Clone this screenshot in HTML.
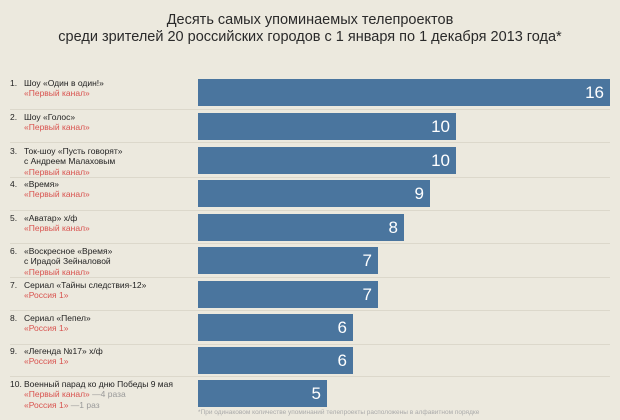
<!DOCTYPE html>
<html><head><meta charset="utf-8"><style>
body{margin:0;width:620px;height:420px;background:#ecE9de;position:relative;overflow:hidden;font-family:"Liberation Sans","DejaVu Sans",sans-serif;}
.t{position:absolute;left:0;width:620px;text-align:center;font-size:14.5px;color:#2a2a2a;}
.row{position:absolute;left:0;width:620px;}
.lab{position:absolute;left:10px;top:-1px;font-size:8.5px;line-height:10.3px;color:#222;}
.lab .n{display:inline-block;width:14px;}
.r{color:#d9534f;padding-left:14px;}
.g{color:#999;}
.bar{position:absolute;left:198px;top:0;height:27px;background:#4a759e;color:#fff;font-size:17px;text-align:right;box-sizing:border-box;padding-right:6px;line-height:28px;}
.ln{position:absolute;left:10px;width:600px;height:1px;background:#dcd8cb;}
.note{position:absolute;left:198px;top:409px;font-size:6.5px;color:#aaa;}
</style></head><body>
<div class="t" style="top:12px">Десять самых упоминаемых телепроектов</div>
<div class="t" style="top:29px">среди зрителей 20 российских городов с 1 января по 1 декабря 2013 года*</div>

<div class="row" style="top:79px"><div class="lab"><span class="n">1.</span>Шоу «Один в один!»<br><span class="r">«Первый канал»</span></div><div class="bar" style="width:412px">16</div></div>
<div class="ln" style="top:109px"></div>
<div class="row" style="top:113px"><div class="lab"><span class="n">2.</span>Шоу «Голос»<br><span class="r">«Первый канал»</span></div><div class="bar" style="width:258px">10</div></div>
<div class="ln" style="top:142px"></div>
<div class="row" style="top:147px"><div class="lab"><span class="n">3.</span>Ток-шоу «Пусть говорят»<br><span style="padding-left:14px">с Андреем Малаховым</span><br><span class="r">«Первый канал»</span></div><div class="bar" style="width:258px">10</div></div>
<div class="ln" style="top:177px"></div>
<div class="row" style="top:180px"><div class="lab"><span class="n">4.</span>«Время»<br><span class="r">«Первый канал»</span></div><div class="bar" style="width:232px">9</div></div>
<div class="ln" style="top:210px"></div>
<div class="row" style="top:214px"><div class="lab"><span class="n">5.</span>«Аватар» х/ф<br><span class="r">«Первый канал»</span></div><div class="bar" style="width:206px">8</div></div>
<div class="ln" style="top:243px"></div>
<div class="row" style="top:247px"><div class="lab"><span class="n">6.</span>«Воскресное «Время»<br><span style="padding-left:14px">с Ирадой Зейналовой</span><br><span class="r">«Первый канал»</span></div><div class="bar" style="width:180px">7</div></div>
<div class="ln" style="top:277px"></div>
<div class="row" style="top:281px"><div class="lab"><span class="n">7.</span>Сериал «Тайны следствия-12»<br><span class="r">«Россия 1»</span></div><div class="bar" style="width:180px">7</div></div>
<div class="ln" style="top:310px"></div>
<div class="row" style="top:314px"><div class="lab"><span class="n">8.</span>Сериал «Пепел»<br><span class="r">«Россия 1»</span></div><div class="bar" style="width:155px">6</div></div>
<div class="ln" style="top:344px"></div>
<div class="row" style="top:347px"><div class="lab"><span class="n">9.</span>«Легенда №17» х/ф<br><span class="r">«Россия 1»</span></div><div class="bar" style="width:155px">6</div></div>
<div class="ln" style="top:376px"></div>
<div class="row" style="top:380px"><div class="lab"><span class="n">10.</span>Военный парад ко дню Победы 9 мая<br><span class="r">«Первый канал»</span> <span class="g">—4 раза</span><br><span class="r">«Россия 1»</span> <span class="g">—1 раз</span></div><div class="bar" style="width:129px">5</div></div>
<div class="note">*При одинаковом количестве упоминаний телепроекты расположены в алфавитном порядке</div>
</body></html>
